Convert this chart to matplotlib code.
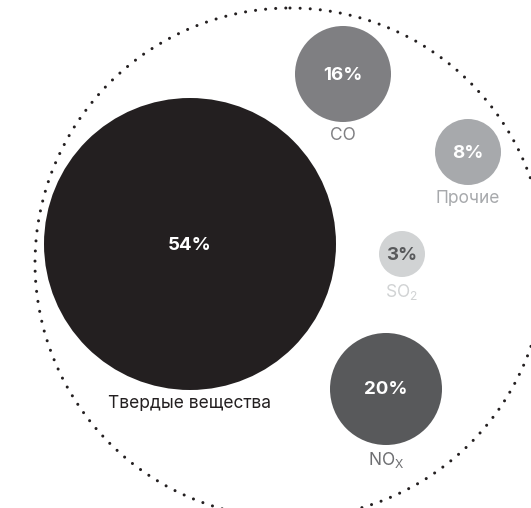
import matplotlib.pyplot as plt
from matplotlib.patches import Circle

plt.rcParams['font.family'] = ['Inter', 'DejaVu Sans']
plt.rcParams['mathtext.fontset'] = 'custom'
plt.rcParams['mathtext.rm'] = 'Inter'
plt.rcParams['mathtext.it'] = 'Inter'

# shares of emissions, %
names = ['Твердые вещества', 'CO', 'Прочие', r'SO$_\mathrm{2}$', r'NO$_\mathrm{X}$']
shares = [54, 16, 8, 3, 20]

# layout in pixels (x, y, radius) and colours
centers = [(190, 244), (343, 74), (468, 152), (402, 254), (386, 389)]
radii = [146, 48, 33, 23, 56]
fills = ['#231f20', '#7f7f82', '#a7a9ac', '#d1d3d4', '#58595b']
value_colors = ['white', 'white', 'white', '#58595b', 'white']
name_colors = ['#231f20', '#808083', '#a7a9ac', '#d1d3d4', '#6d6e71']

fig = plt.figure(figsize=(5.31, 5.08), dpi=100)
ax = fig.add_axes([0, 0, 1, 1])
ax.set_xlim(0, 531)
ax.set_ylim(508, 0)
ax.set_aspect('equal')
ax.axis('off')

outer = Circle((290, 263), 255, fill=False, ec='#231f20', lw=2.2,
               linestyle=(0, (0.01, 3.3)))
outer.set_capstyle('round')
ax.add_patch(outer)

for i in range(len(shares)):
    x, y = centers[i]
    r = radii[i]
    ax.add_patch(Circle((x, y), r, color=fills[i], lw=0))
    ax.text(x, y + 1, f'{shares[i]}%', ha='center', va='center',
            fontsize=13.5, fontweight='bold', color=value_colors[i])
    ax.text(x, y + r + 5, names[i], ha='center', va='top',
            fontsize=12.5, color=name_colors[i])

fig.savefig('out.png', dpi=100)
